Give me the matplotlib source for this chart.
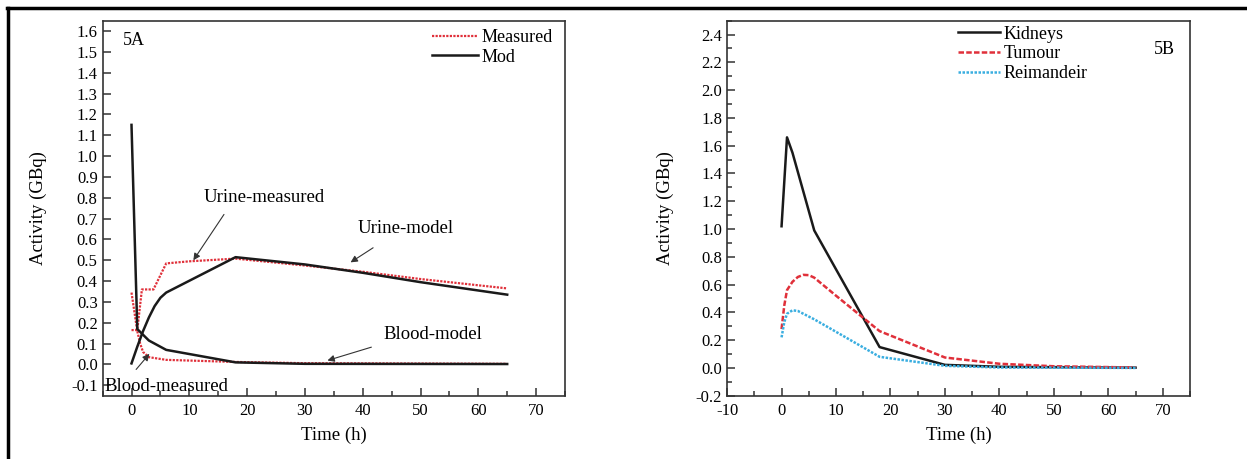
import matplotlib
matplotlib.use("Agg")
import matplotlib.pyplot as plt
from matplotlib.lines import Line2D
from matplotlib.ticker import MultipleLocator

plt.rcParams['font.family'] = ['Liberation Serif', 'DejaVu Serif']
plt.rcParams['axes.unicode_minus'] = False

# ---- Panel 5A data ----
t_blood_model = [0, 1, 3, 6, 18, 30, 65]
blood_model = [1.15, 0.17, 0.115, 0.07, 0.01, 0.003, 0.002]
t_urine_model = [0, 1, 2, 3, 4, 5, 6, 18, 30, 40, 50, 65]
urine_model = [0.005, 0.085, 0.16, 0.225, 0.28, 0.32, 0.345, 0.515, 0.48, 0.44, 0.395, 0.335]
t_blood_meas = [0, 1, 1.5, 2, 3, 6, 18, 30, 65]
blood_meas = [0.345, 0.16, 0.1, 0.06, 0.035, 0.022, 0.012, 0.006, 0.003]
t_urine_meas = [0, 1, 1.8, 3.8, 6, 10, 18, 30, 40, 50, 65]
urine_meas = [0.165, 0.165, 0.36, 0.36, 0.485, 0.495, 0.508, 0.475, 0.445, 0.41, 0.365]

# ---- Panel 5B data ----
t_kid = [0, 1, 2, 6, 18, 30, 40, 65]
kidneys = [1.02, 1.66, 1.55, 0.99, 0.15, 0.022, 0.008, 0.002]
t_tum = [0, 0.5, 1, 2, 3, 4, 5, 6, 10, 18, 30, 40, 50, 65]
tumour = [0.28, 0.45, 0.56, 0.62, 0.655, 0.67, 0.668, 0.65, 0.52, 0.265, 0.075, 0.03, 0.012, 0.003]
t_rem = [0, 0.5, 1, 2, 3, 4, 6, 10, 18, 30, 40, 65]
reimandeir = [0.22, 0.33, 0.39, 0.415, 0.41, 0.39, 0.35, 0.26, 0.08, 0.015, 0.003, 0.0]

W, H = 1247, 459
fig = plt.figure(figsize=(W / 100, H / 100), dpi=100)

def px_ax(x0, x1, ytop, ybot):
    return fig.add_axes([x0 / W, 1 - ybot / H, (x1 - x0) / W, (ybot - ytop) / H])

axA = px_ax(102.6, 565, 20.7, 395.7)
axB = px_ax(727.1, 1190, 20.7, 395.7)

red = '#e0303a'
cyan = '#3aaee0'
dark = '#1a1a1a'

# Panel A
axA.plot(t_blood_meas, blood_meas, color=red, lw=1.6, ls=(0, (1, 0.6)), label='Measured')
axA.plot(t_urine_meas, urine_meas, color=red, lw=1.6, ls=(0, (1, 0.6)))
axA.plot(t_blood_model, blood_model, color=dark, lw=1.8, label='Mod')
axA.plot(t_urine_model, urine_model, color=dark, lw=1.8)
axA.set_xlim(-5, 75)
axA.set_ylim(-0.15, 1.65)
axA.xaxis.set_major_locator(MultipleLocator(10))
axA.xaxis.set_minor_locator(MultipleLocator(5))
axA.set_yticks([round(-0.1 + 0.1 * i, 1) for i in range(18)])
axA.set_yticklabels(['%.1f' % (-0.1 + 0.1 * i) for i in range(18)])
axA.text(0.044, 0.948, '5A', transform=axA.transAxes, fontsize=13, va='center', ha='left')
axA.legend(loc='upper right', frameon=False, fontsize=13, handlelength=2.5,
           handletextpad=0.2, borderaxespad=0.3, labelspacing=0.15, bbox_to_anchor=(1.0, 1.012))

arrow = dict(arrowstyle='-|>', color='#333333', lw=0.8, mutation_scale=10, shrinkA=0, shrinkB=0)
ann_fs = 13.5
axA.text(23.0, 0.80, 'Urine-measured', fontsize=ann_fs, ha='center', va='center')
axA.annotate('', xy=(10.7, 0.50), xytext=(16.0, 0.72), arrowprops=arrow)
axA.text(47.5, 0.652, 'Urine-model', fontsize=ann_fs, ha='center', va='center')
axA.annotate('', xy=(37.9, 0.49), xytext=(41.8, 0.56), arrowprops=arrow)
axA.text(52.1, 0.144, 'Blood-model', fontsize=ann_fs, ha='center', va='center')
axA.annotate('', xy=(33.9, 0.019), xytext=(41.5, 0.083), arrowprops=arrow)
axA.text(6.0, -0.104, 'Blood-measured', fontsize=ann_fs, ha='center', va='center')
axA.annotate('', xy=(3.1, 0.051), xytext=(0.8, -0.024), arrowprops=arrow)

# Panel B
axB.plot(t_kid, kidneys, color=dark, lw=1.8, label='Kidneys')
axB.plot(t_tum, tumour, color=red, lw=1.8, ls=(0, (2.2, 0.9)), label='Tumour')
axB.plot(t_rem, reimandeir, color=cyan, lw=1.8, ls=(0, (1, 0.6)), label='Reimandeir')
axB.set_xlim(-10, 75)
axB.set_ylim(-0.2, 2.5)
axB.xaxis.set_major_locator(MultipleLocator(10))
axB.xaxis.set_minor_locator(MultipleLocator(5))
axB.set_yticks([round(-0.2 + 0.2 * i, 1) for i in range(14)])
axB.set_yticklabels(['%.1f' % (-0.2 + 0.2 * i) for i in range(14)])
axB.yaxis.set_minor_locator(MultipleLocator(0.1))
axB.text(0.967, 0.922, '5B', transform=axB.transAxes, fontsize=13, va='center', ha='right')
axB.legend(loc='upper left', frameon=False, fontsize=13, handlelength=2.3,
           handletextpad=0.2, labelspacing=0.15, bbox_to_anchor=(0.464, 1.03))

for ax, lx in ((axA, -0.12), (axB, -0.115)):
    ax.set_xlabel('Time (h)', fontsize=13.5)
    ax.set_ylabel('Activity (GBq)', fontsize=13.5)
    ax.yaxis.set_label_coords(lx, 0.5)
    ax.xaxis.set_label_coords(0.5, -0.083)
    ax.tick_params(which='both', direction='in', top=False, right=False,
                   labelsize=12, color='#333333', width=1.1)
    ax.tick_params(which='major', length=6)
    ax.tick_params(which='minor', length=3.5)
    ax.tick_params(axis='x', pad=5)
    for s in ax.spines.values():
        s.set_linewidth(1.2)
        s.set_color('#333333')

# figure border lines (top and left)
fig.add_artist(Line2D([7 / W, 1.0], [1 - 7.5 / H, 1 - 7.5 / H], color='black', lw=2.5,
                      transform=fig.transFigure))
fig.add_artist(Line2D([7.5 / W, 7.5 / W], [0, 1 - 7.5 / H], color='black', lw=2.5,
                      transform=fig.transFigure))

fig.savefig('out.png', dpi=100)
